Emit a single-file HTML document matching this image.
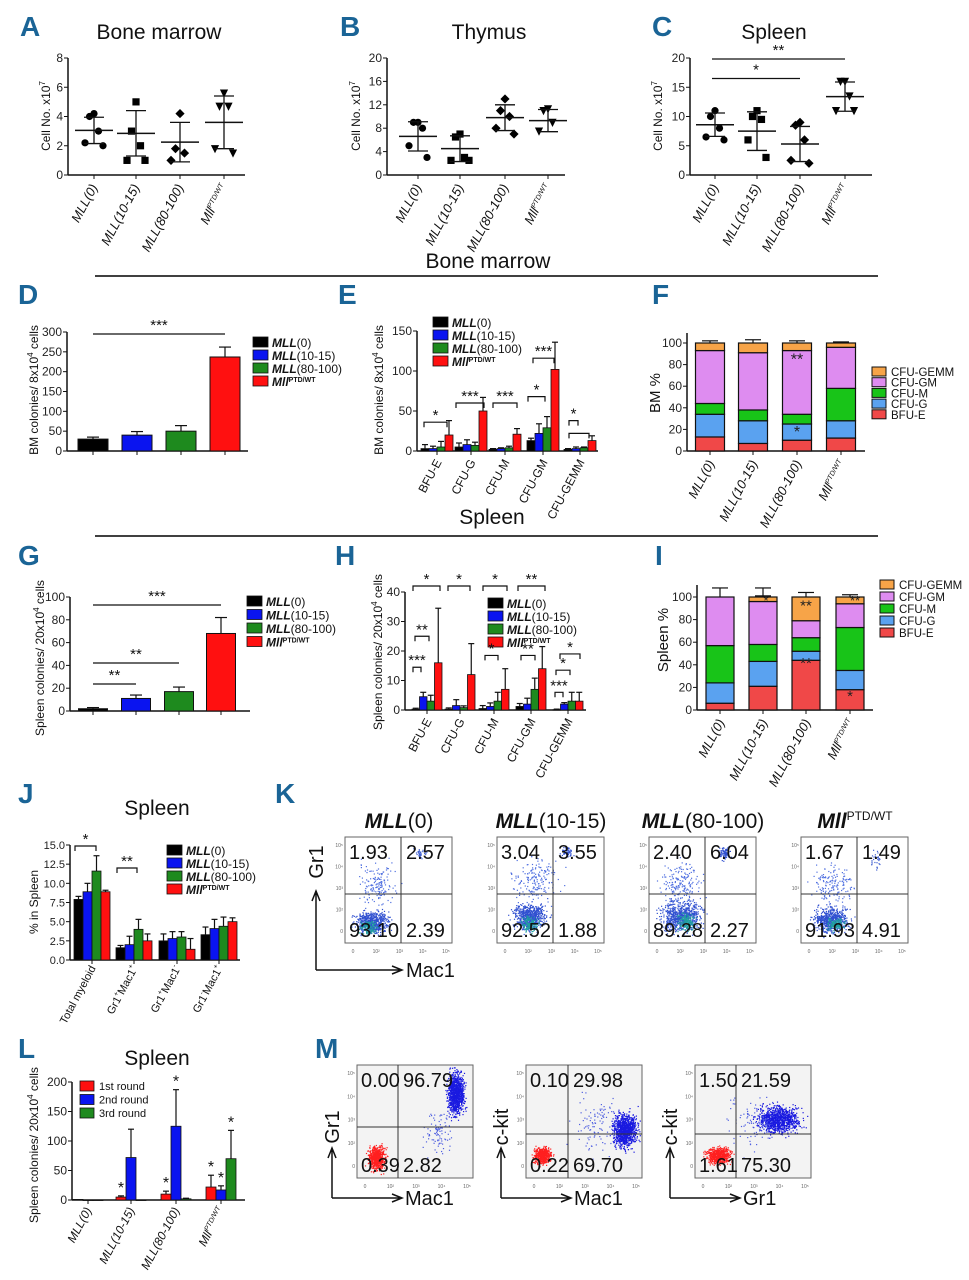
<!DOCTYPE html>
<html><head><meta charset="utf-8">
<style>
html,body{margin:0;padding:0;background:#fff;}
svg{display:block;font-family:"Liberation Sans Narrow","Liberation Sans",sans-serif;}
.pl{font-family:"Liberation Sans Narrow","Liberation Sans",sans-serif;font-weight:bold;font-size:28px;fill:#1a6496;}
.ttl{font-size:21px;fill:#111;}
</style></head>
<body>
<svg id="fig" width="969" height="1280" viewBox="0 0 969 1280" xmlns="http://www.w3.org/2000/svg">
<rect x="0" y="0" width="969" height="1280" fill="#fff"/>
<text class="pl" x="20" y="36">A</text>
<text class="pl" x="340" y="36">B</text>
<text class="pl" x="652" y="36">C</text>
<text class="ttl" x="159" y="39" text-anchor="middle">Bone marrow</text>
<text class="ttl" x="489" y="39" text-anchor="middle">Thymus</text>
<text class="ttl" x="774" y="39" text-anchor="middle">Spleen</text>
<text class="ttl" x="488" y="268" text-anchor="middle">Bone marrow</text>
<line x1="95" y1="276" x2="878" y2="276" stroke="#000" stroke-width="1.5"/>
<text class="pl" x="18" y="304">D</text>
<text class="pl" x="338" y="304">E</text>
<text class="pl" x="652" y="304">F</text>
<text class="ttl" x="492" y="524" text-anchor="middle">Spleen</text>
<line x1="95" y1="536" x2="878" y2="536" stroke="#000" stroke-width="1.5"/>
<text class="pl" x="18" y="565">G</text>
<text class="pl" x="335" y="565">H</text>
<text class="pl" x="655" y="565">I</text>
<text class="pl" x="18" y="803">J</text>
<text class="pl" x="275" y="803">K</text>
<text class="ttl" x="157" y="815" text-anchor="middle">Spleen</text>
<text class="pl" x="18" y="1058">L</text>
<text class="pl" x="315" y="1058">M</text>
<text class="ttl" x="157" y="1065" text-anchor="middle">Spleen</text>
</svg>
<script>
// ---------- data ----------
const groups = ['MLL(0)','MLL(10-15)','MLL(80-100)','MllPTD/WT'];
const colonyTypes = ['BFU-E','CFU-G','CFU-M','CFU-GM','CFU-GEMM'];
const seriesColors = ['#000000','#0a14f0','#1e8a1e','#ff1010'];
const stackColors = ['#f04848','#5aa2f0','#18c418','#de8cf0','#f7a448'];
// A
const aPts = [[4.2,4.0,3.0,2.2,2.0],[5.0,3.0,2.0,1.0,1.0],[4.2,1.8,1.5,1.0],[5.6,4.7,4.7,1.8,1.5]];
const aMean = [3.05,2.85,2.25,3.6];
const aSd = [0.9,1.55,1.35,1.8];
// B
const bPts = [[9,9,8,5,3],[7,6.5,3,2.5,2.5],[13,11,10,8,7],[11.3,11,9,7.5]];
const bMean = [6.6,4.5,9.8,9.3];
const bSd = [2.5,2.2,2.2,1.9];
// C
const cPts = [[11,10,8,6.5,6],[11,10,9.5,6,3],[9,8.5,6,2.5,2],[16,16,13.5,11,11]];
const cMean = [8.6,7.5,5.3,13.4];
const cSd = [2.0,3.3,3.0,2.5];
// D
const dVals = [30,40,50,237];
const dErr = [5,9,14,25];
// E (rows = colony type, cols = group)
const eVals = [[3,3,5,20],[5,8,7,50],[2,3,4,21],[13,22,29,102],[2,3,4,13]];
const eErr = [[5,3,7,18],[5,6,4,17],[1,1,2,7],[3,12,14,34],[1,2,1,6]];
// F stacked % (BFU-E, CFU-G, CFU-M, CFU-GM, CFU-GEMM)
const fVals = [[13,21,10,49,7],[7,21,10,53,9],[10,15,9,59,7],[12,16,30,38,4]];
const fErr = [[3,3,2,3,2],[2,3,2,2,3],[2,1,1,2,2],[1,4,10,1,1]];
// G
const gVals = [2,11,17,68];
const gErr = [1,3,4,14];
// H
const hVals = [[0.3,4.5,3,16],[0.3,1.5,0.8,12],[0.5,1.2,3,7],[1.2,2,7,14],[0.1,2,3,3]];
const hErr = [[0.3,1.5,2,18.5],[0.4,2,0.6,10.5],[1,1.2,3,7],[1,2,3.8,7.5],[0.2,0.5,3,3]];
// I stacked %
const iVals = [[6,18,33,43,0],[21,22,15,38,4],[44,8,12,15,21],[18,17,38,21,6]];
const iErr = [[6,7,11,8,0],[10,4,5,5,8],[4,4,5,7,4],[6,3,6,5,2]];
// J
const jCats = ['Total myeloid','Gr1+Mac1+','Gr1+Mac1-','Gr1-Mac1+'];
const jVals = [[7.9,8.9,11.6,8.9],[1.6,2.0,4.0,2.5],[2.5,2.8,3.0,1.4],[3.3,4.1,4.4,5.0]];
const jErr = [[0.4,1.1,2.0,0.2],[0.3,1.1,1.3,0.9],[0.9,0.9,0.7,1.4],[1.0,1.2,1.2,0.5]];
// L
const lSeries = ['1st round','2nd round','3rd round'];
const lVals = [[1,0,0],[5,72,0],[10,125,2],[22,17,70]];
const lErr = [[0,0,0],[2,48,0],[5,62,1],[20,7,48]];
const lSig = [[1,0],[2,0],[2,1],[3,0],[3,1],[3,2]];
// K quadrant percentages [TL, TR, BL, BR]
const kQuads = [['1.93','2.57','93.10','2.39'],['3.04','3.55','92.52','1.88'],['2.40','6.04','89.28','2.27'],['1.67','1.49','91.93','4.91']];
// M quadrant percentages
const mQuads = [['0.00','96.79','0.39','2.82'],['0.10','29.98','0.22','69.70'],['1.50','21.59','1.61','75.30']];
const mAxes = [['Gr1','Mac1'],['c-kit','Mac1'],['c-kit','Gr1']];

// ---------- helpers ----------
const NS='http://www.w3.org/2000/svg';
const svg=document.getElementById('fig');
function mk(tag, attrs, name, parent){
  const e=document.createElementNS(NS,tag);
  for(const k in attrs) e.setAttribute(k,attrs[k]);
  
  
  (parent||svg).appendChild(e);
  return e;
}
function txt(x,y,s,attrs,name,parent){
  const a=Object.assign({x:x,y:y},attrs||{});
  const t=mk('text',a,name,parent);
  t.textContent=s;
  return t;
}
function yAxis(o){
  const g=mk('g',{},o.name);
  const s=v=>o.y0-(v-o.min)/(o.max-o.min)*(o.y0-o.y1);
  mk('line',{x1:o.x,y1:o.y0,x2:o.x,y2:(o.top||o.y1),stroke:'#111','stroke-width':1.5},'y-axis-line',g);
  mk('line',{x1:o.x,y1:o.y0,x2:o.xEnd,y2:o.y0,stroke:'#111','stroke-width':1.5},'x-axis-line',g);
  o.ticks.forEach(v=>{
    mk('line',{x1:o.x-4,y1:s(v),x2:o.x,y2:s(v),stroke:'#111','stroke-width':1},'y-tick',g);
    txt(o.x-5,s(v)+4,o.fmt?o.fmt(v):String(v),{'text-anchor':'end','font-size':o.fs||12,fill:'#222'},'y-tick-label',g);
  });
  if(o.title){
    const t=txt(0,0,'',{'text-anchor':'middle','font-size':o.tfs||12,fill:'#111','font-family':'Liberation Sans, sans-serif',transform:`translate(${o.tx},${o.ty}) rotate(-90)`},'y-axis-title',g);
    t.innerHTML=o.title;
  }
  return s;
}
function catLabel(x,y,label,fs,name,italic){
  const t=txt(0,0,'',{'text-anchor':'end','font-size':fs||12,fill:'#111','font-style':italic===false?'normal':'italic','font-family':'Liberation Sans, sans-serif',transform:`translate(${x},${y}) rotate(-62)`},name);
  if(label.indexOf('Mll')===0){
    t.innerHTML='Mll<tspan font-size="7" dy="-5">PTD/WT</tspan>';
  } else if(/^Gr1/.test(label)){
    const m=label.match(/^Gr1(.)Mac1(.)$/);
    t.innerHTML='Gr1<tspan font-size="7" dy="-5">'+m[1]+'</tspan><tspan dy="5">Mac1</tspan><tspan font-size="7" dy="-5">'+m[2]+'</tspan>';
  } else t.textContent=label;
  return t;
}
function legendLabel(x,y,label,fs,name){
  const t=txt(x,y,'',{'font-size':fs||12,fill:'#111','font-family':'Liberation Sans, sans-serif'},name);
  if(label.indexOf('Mll')===0) t.innerHTML='<tspan font-weight="bold" font-style="italic">Mll</tspan><tspan font-size="7" dy="-4" font-weight="bold">PTD/WT</tspan>';
  else { const m=label.match(/^MLL(.*)$/); t.innerHTML='<tspan font-weight="bold" font-style="italic">MLL</tspan>'+m[1]; }
}
function errBar(x,yTop,yErr,hw,name){
  mk('line',{x1:x,y1:yTop,x2:x,y2:yErr,stroke:'#111','stroke-width':1.2},name);
  mk('line',{x1:x-hw,y1:yErr,x2:x+hw,y2:yErr,stroke:'#111','stroke-width':1.2},name+'-cap');
}
function bracket(x1,x2,y,label,name){
  mk('path',{d:`M${x1},${y+5}V${y}H${x2}V${y+5}`,fill:'none',stroke:'#111','stroke-width':1.2},name);
  txt((x1+x2)/2,y-2,label,{'text-anchor':'middle','font-size':15,fill:'#111','font-family':'Liberation Sans, sans-serif'},name+'-stars');
}
function sigLine(x1,x2,y,label,name){
  mk('line',{x1:x1,y1:y,x2:x2,y2:y,stroke:'#111','stroke-width':1.2},name);
  txt((x1+x2)/2,y-4,label,{'text-anchor':'middle','font-size':15,fill:'#111','font-family':'Liberation Sans, sans-serif'},name+'-stars');
}
function marker(kind,x,y,name){
  const r=3.6;
  if(kind===0) mk('circle',{cx:x,cy:y,r:r,fill:'#000'},name);
  else if(kind===1) mk('rect',{x:x-r,y:y-r,width:2*r,height:2*r,fill:'#000'},name);
  else if(kind===2) mk('polygon',{points:`${x},${y-r-1} ${x+r+1},${y} ${x},${y+r+1} ${x-r-1},${y}`,fill:'#000'},name);
  else mk('polygon',{points:`${x-r-0.5},${y-r} ${x+r+0.5},${y-r} ${x},${y+r+1}`,fill:'#000'},name);
}
function scatterPanel(o,pts,mean,sd,letter){
  const s=yAxis(o);
  o.cx.forEach((cx,gi)=>{
    pts[gi].forEach((v,i)=>{
      const off=(i%2===0?1:-1)*(Math.ceil(i/2))*4.5;
      marker(gi,cx+off,s(v),'point-'+letter+'-'+gi);
    });
    mk('line',{x1:cx-19,y1:s(mean[gi]),x2:cx+19,y2:s(mean[gi]),stroke:'#111','stroke-width':1.5},'mean-line');
    mk('line',{x1:cx,y1:s(mean[gi]-sd[gi]),x2:cx,y2:s(mean[gi]+sd[gi]),stroke:'#111','stroke-width':1.3},'sd-line');
    mk('line',{x1:cx-10,y1:s(mean[gi]-sd[gi]),x2:cx+10,y2:s(mean[gi]-sd[gi]),stroke:'#111','stroke-width':1.3},'sd-cap-low');
    mk('line',{x1:cx-10,y1:s(mean[gi]+sd[gi]),x2:cx+10,y2:s(mean[gi]+sd[gi]),stroke:'#111','stroke-width':1.3},'sd-cap-high');
    mk('line',{x1:cx,y1:o.y0,x2:cx,y2:o.y0+4,stroke:'#111'},'x-tick');
    catLabel(cx+4,o.y0+12,groups[gi],13,'x-label-'+letter);
  });
  return s;
}
function simpleBars(o,vals,err,letter){
  const s=yAxis(o);
  o.cx.forEach((cx,i)=>{
    errBar(cx,s(vals[i]),s(vals[i]+err[i]),6,'error-bar-'+letter);
    mk('rect',{x:cx-o.bw/2,y:s(vals[i]),width:o.bw,height:o.y0-s(vals[i]),fill:seriesColors[i],stroke:'#111','stroke-width':1},'bar-'+letter+'-'+i);
    mk('line',{x1:cx,y1:o.y0,x2:cx,y2:o.y0+4,stroke:'#111'},'x-tick');
  });
  return s;
}
function groupedBars(o,vals,err,colors,letter){
  const s=yAxis(o);
  o.cx.forEach((cx,gi)=>{
    vals[gi].forEach((v,si)=>{
      const x=cx+(si-(vals[gi].length-1)/2)*o.bw;
      if(err[gi][si]>0) errBar(x,s(v),s(v+err[gi][si]),3,'error-bar-'+letter);
      mk('rect',{x:x-o.bw/2,y:s(v),width:o.bw,height:Math.max(0.5,o.y0-s(v)),fill:colors[si],stroke:'#111','stroke-width':0.8},'bar-'+letter+'-'+gi+'-'+si);
    });
    mk('line',{x1:cx,y1:o.y0,x2:cx,y2:o.y0+4,stroke:'#111'},'x-tick');
  });
  return s;
}
function stacked(o,vals,err,letter){
  const s=yAxis(o);
  o.cx.forEach((cx,gi)=>{
    let cum=0;
    vals[gi].forEach((v,si)=>{
      if(v>0) mk('rect',{x:cx-o.bw/2,y:s(cum+v),width:o.bw,height:s(cum)-s(cum+v),fill:stackColors[si],stroke:'#111','stroke-width':1.2},'stack-'+letter+'-'+gi+'-'+colonyTypes[si]);
      cum+=v;
      if(err[gi][si]>0) errBar(cx,s(cum),s(cum+err[gi][si]),8,'stack-error-'+letter);
    });
    mk('line',{x1:cx,y1:o.y0,x2:cx,y2:o.y0+4,stroke:'#111'},'x-tick');
    catLabel(cx+5,o.y0+12,groups[gi],13,'x-label-'+letter);
  });
  return s;
}
function stackLegend(x,y,step,letter){
  for(let k=4;k>=0;k--){
    const yy=y+(4-k)*step;
    mk('rect',{x:x,y:yy,width:14,height:9,fill:stackColors[k],stroke:'#111','stroke-width':1},'legend-swatch-'+letter);
    txt(x+19,yy+9,colonyTypes[k],{'font-size':11.5,fill:'#111','font-family':'Liberation Sans, sans-serif'},'legend-entry-'+letter);
  }
}
function groupLegend(x,y,step,letter){
  groups.forEach((g,i)=>{
    mk('rect',{x:x,y:y+i*step,width:15,height:10,fill:seriesColors[i],stroke:'#111','stroke-width':0.8},'legend-swatch-'+letter);
    legendLabel(x+19,y+i*step+10,g,12,'legend-entry-'+letter);
  });
}
const colTitle='colonies/ 20x10<tspan font-size="8" dy="-5">4</tspan><tspan dy="5"> cells</tspan>';
// ---------- A B C ----------
const sA=scatterPanel({name:'chart-a',x:68,y0:175,y1:58,min:0,max:8,ticks:[0,2,4,6,8],xEnd:245,cx:[94,136,180,224],title:'Cell No. x10<tspan font-size="8" dy="-5">7</tspan>',tx:50,ty:116},aPts,aMean,aSd,'a');
const sB=scatterPanel({name:'chart-b',x:387,y0:175,y1:58,min:0,max:20,ticks:[0,4,8,12,16,20],xEnd:565,cx:[418,460,505,548],title:'Cell No. x10<tspan font-size="8" dy="-5">7</tspan>',tx:360,ty:116},bPts,bMean,bSd,'b');
const sC=scatterPanel({name:'chart-c',x:690,y0:175,y1:58,min:0,max:20,ticks:[0,5,10,15,20],xEnd:872,cx:[715,757,800,845],title:'Cell No. x10<tspan font-size="8" dy="-5">7</tspan>',tx:662,ty:116},cPts,cMean,cSd,'c');
sigLine(712,845,sC(20)+1,'**','sig-c-1');
sigLine(712,800,sC(16.5),'*','sig-c-2');
// ---------- D ----------
const sD=simpleBars({name:'chart-d',x:67,y0:451,y1:332,min:0,max:300,ticks:[0,50,100,150,200,250,300],xEnd:248,cx:[93,137,181,225],bw:30,title:'BM colonies/ 8x10<tspan font-size="8" dy="-5">4</tspan><tspan dy="5"> cells</tspan>',tx:38,ty:390},dVals,dErr,'d');
sigLine(93,225,334,'***','sig-d');
groupLegend(253,337,13,'d');
// ---------- E ----------
const sE=groupedBars({name:'chart-e',x:417,y0:451,y1:331,min:0,max:150,ticks:[0,50,100,150],xEnd:598,cx:[437,471,505,543,580],bw:8,title:'BM colonies/ 8x10<tspan font-size="8" dy="-5">4</tspan><tspan dy="5"> cells</tspan>',tx:383,ty:390},eVals,eErr,seriesColors,'e');
colonyTypes.forEach((c,i)=>catLabel([437,471,505,543,580][i]+5,462,c,12,'x-label-e',false));
groupLegend(433,317,13,'e');
bracket(424,447,sE(36),'*','sig-e-bfu');
bracket(456,484,sE(60),'***','sig-e-cfug');
bracket(493,517,sE(60),'***','sig-e-cfum');
bracket(528,545,sE(68),'*','sig-e-cfugm-1');
bracket(533,554,sE(116),'***','sig-e-cfugm-2');
bracket(569,578,sE(38),'*','sig-e-gemm-1');
bracket(569,589,sE(22),'','sig-e-gemm-2');
// ---------- F ----------
const sF=stacked({name:'chart-f',x:687,y0:451,y1:343,min:0,max:100,ticks:[0,20,40,60,80,100],xEnd:865,cx:[710,753,797,841],bw:29,top:333,title:'BM %',tx:660,ty:393,tfs:15},fVals,fErr,'f');
txt(797,sF(80),'**',{'text-anchor':'middle','font-size':16,fill:'#222'},'sig-f-1');
txt(797,sF(13),'*',{'text-anchor':'middle','font-size':16,fill:'#222'},'sig-f-2');
stackLegend(872,367,10.7,'f');
// ---------- G ----------
const sG=simpleBars({name:'chart-g',x:70,y0:711,y1:597,min:0,max:100,ticks:[0,20,40,60,80,100],xEnd:250,cx:[93,136,179,221],bw:29,title:'Spleen '+colTitle,tx:44,ty:658,tfs:12},gVals,gErr,'g');
sigLine(93,221,605,'***','sig-g-1');
sigLine(93,179,663,'**','sig-g-2');
sigLine(93,136,684,'**','sig-g-3');
groupLegend(247,596,13.5,'g');
// ---------- H ----------
const hx=[427,460,494,531,568];
const sH=groupedBars({name:'chart-h',x:405,y0:710,y1:592,min:0,max:40,ticks:[0,10,20,30,40],xEnd:586,cx:hx,bw:7.5,title:'Spleen '+colTitle,tx:382,ty:652,tfs:12},hVals,hErr,seriesColors,'h');
colonyTypes.forEach((c,i)=>catLabel(hx[i]+5,721,c,12,'x-label-h',false));
groupLegend(488,598,13,'h');
bracket(413,440,586,'*','sig-h-1');
bracket(448,470,586,'*','sig-h-2');
bracket(483,507,586,'*','sig-h-3');
bracket(518,545,586,'**','sig-h-4');
bracket(415,429,sH(25),'**','sig-h-5');
bracket(413,421,sH(14.5),'***','sig-h-6');
bracket(485,498,sH(18.5),'*','sig-h-7');
bracket(521,535,sH(18.5),'**','sig-h-8');
bracket(556,570,sH(13.5),'*','sig-h-9');
bracket(560,580,sH(19),'*','sig-h-10');
bracket(555,563,sH(6),'***','sig-h-11');
// ---------- I ----------
const sI=stacked({name:'chart-i',x:697,y0:710,y1:597,min:0,max:100,ticks:[0,20,40,60,80,100],xEnd:873,cx:[720,763,806,850],bw:28,top:585,title:'Spleen %',tx:668,ty:640,tfs:15},iVals,iErr,'i');
txt(806,sI(88),'**',{'text-anchor':'middle','font-size':15,fill:'#222'},'sig-i-1');
txt(806,sI(37),'**',{'text-anchor':'middle','font-size':15,fill:'#222'},'sig-i-2');
txt(850,sI(8),'*',{'text-anchor':'middle','font-size':15,fill:'#222'},'sig-i-3');
txt(766,sI(93),'*',{'text-anchor':'middle','font-size':13,fill:'#222'},'sig-i-4');
txt(855,sI(93),'**',{'text-anchor':'middle','font-size':13,fill:'#222'},'sig-i-5');
stackLegend(880,580,12,'i');
// ---------- J ----------
const jx=[92,134,177,219];
const sJ=groupedBars({name:'chart-j',x:70,y0:960,y1:845,min:0,max:15,ticks:[0,2.5,5,7.5,10,12.5,15],fmt:v=>v.toFixed(1),fs:11,xEnd:240,cx:jx,bw:9,title:'% in Spleen',tx:38,ty:902,tfs:12},jVals,jErr,seriesColors,'j');
jCats.forEach((c,i)=>catLabel(jx[i]+4,968,c,11,'x-label-j',false));
bracket(75,96,846,'*','sig-j-1');
bracket(117,137,sJ(12),'**','sig-j-2');
groupLegend(167,845,13,'j');
// ---------- L ----------
const lx=[88,131,176,221];
const lColors=['#ff1010','#0a14f0','#1e8a1e'];
const sL=groupedBars({name:'chart-l',x:72,y0:1200,y1:1082,min:0,max:200,ticks:[0,50,100,150,200],xEnd:245,cx:lx,bw:10,title:'Spleen '+colTitle,tx:38,ty:1145,tfs:12},lVals,lErr,lColors,'l');
groups.forEach((g,i)=>catLabel(lx[i]+4,1210,g,12,'x-label-l'));
lSeries.forEach((s,i)=>{
  mk('rect',{x:80,y:1081+i*13.5,width:14,height:10,fill:lColors[i],stroke:'#111','stroke-width':0.8},'legend-swatch-l');
  txt(99,1090+i*13.5,s,{'font-size':11,fill:'#111','font-family':'Liberation Sans, sans-serif'},'legend-entry-l');
});
lSig.forEach(p=>{
  const gi=p[0],si=p[1];
  const x=lx[gi]+(si-1)*10;
  txt(x,sL(lVals[gi][si]+lErr[gi][si])-3,'*',{'text-anchor':'middle','font-size':16,fill:'#111'},'sig-l');
});
// ---------- flow plots ----------
let seed=12345;
function rnd(){seed=(seed*1103515245+12345)%2147483648;return seed/2147483648;}
function gauss(){return (rnd()+rnd()+rnd()+rnd()-2)/1.2;}
function flowPlot(x,y,w,h,vx,hy,quads,clusters,bg,name){
  const g=mk('g',{},name);
  mk('rect',{x:x,y:y,width:w,height:h,fill:bg,stroke:'#666','stroke-width':1},'plot-frame',g);
  const dots=mk('g',{},'events',g);
  clusters.forEach(c=>{
    for(let i=0;i<c[4];i++){
      const px=x+w*Math.min(0.98,Math.max(0.01,c[0]+c[2]*gauss()));
      const py=y+h*Math.min(0.98,Math.max(0.02,c[1]+c[3]*gauss()));
      mk('rect',{x:px.toFixed(1),y:py.toFixed(1),width:1.2,height:1.2,fill:c[5]},'event',dots);
    }
  });
  mk('line',{x1:vx,y1:y,x2:vx,y2:y+h,stroke:'#333','stroke-width':1},'quadrant-vline',g);
  mk('line',{x1:x,y1:hy,x2:x+w,y2:hy,stroke:'#333','stroke-width':1},'quadrant-hline',g);
  const ts={'font-size':20,fill:'#111','font-family':'Liberation Sans, sans-serif'};
  txt(x+4,y+22,quads[0],ts,'quadrant-tl',g);
  txt(vx+5,y+22,quads[1],ts,'quadrant-tr',g);
  txt(x+4,y+h-6,quads[2],ts,'quadrant-bl',g);
  txt(vx+5,y+h-6,quads[3],ts,'quadrant-br',g);
  ['0','10²','10³','10⁴','10⁵'].forEach((t,i)=>{
    txt(x+8+i*(w-14)/4,y+h+10,t,{'font-size':5,fill:'#666','text-anchor':'middle'},'x-tick-label',g);
  });
  ['0','10²','10³','10⁴','10⁵'].forEach((t,i)=>{
    txt(x-2,y+h-10-i*(h-20)/4,t,{'font-size':5,fill:'#666','text-anchor':'end'},'y-tick-label',g);
  });
}
const kTitles=[['MLL','(0)'],['MLL','(10-15)'],['MLL','(80-100)'],['Mll','PTD/WT']];
const kClusterSets=[
 [[0.25,0.8,0.15,0.1,600,'#3050d0'],[0.3,0.45,0.18,0.2,160,'#5070e0'],[0.7,0.15,0.06,0.06,35,'#4060d0'],[0.22,0.85,0.08,0.06,120,'#20a0a0']],
 [[0.3,0.75,0.15,0.12,650,'#3050d0'],[0.35,0.4,0.2,0.2,180,'#5070e0'],[0.65,0.14,0.05,0.05,60,'#3050d0'],[0.3,0.82,0.08,0.08,150,'#20a0a0']],
 [[0.3,0.75,0.18,0.14,700,'#3050d0'],[0.3,0.45,0.2,0.22,200,'#5070e0'],[0.7,0.15,0.05,0.06,90,'#3050d0'],[0.35,0.8,0.08,0.08,160,'#20a0a0']],
 [[0.28,0.78,0.16,0.12,620,'#3050d0'],[0.3,0.45,0.2,0.2,160,'#5070e0'],[0.7,0.2,0.05,0.1,30,'#4060d0'],[0.32,0.82,0.08,0.06,130,'#20a0a0']]
];
for(let i=0;i<4;i++){
  const x=345+i*152;
  const t=txt(x+54,828,'',{'text-anchor':'middle','font-size':21,'font-family':'Liberation Sans, sans-serif',fill:'#111'},'k-title-'+i);
  if(i<3) t.innerHTML='<tspan font-weight="bold" font-style="italic">'+kTitles[i][0]+'</tspan>'+kTitles[i][1];
  else t.innerHTML='<tspan font-weight="bold" font-style="italic">Mll</tspan><tspan font-size="12" dy="-8">PTD/WT</tspan>';
  flowPlot(x,837,107,106,x+56,894,kQuads[i],kClusterSets[i],'#fff','k-plot-'+i);
}
mk('path',{d:'M316,970V893M312,901L316,891L320,901',fill:'none',stroke:'#111','stroke-width':1.5},'k-y-arrow');
mk('path',{d:'M316,970H400M392,966L402,970L392,974',fill:'none',stroke:'#111','stroke-width':1.5},'k-x-arrow');
txt(0,0,'Gr1',{'text-anchor':'middle','font-size':20,fill:'#111','font-family':'Liberation Sans, sans-serif',transform:'translate(323,862) rotate(-90)'},'k-y-label');
txt(406,977,'Mac1',{'font-size':20,fill:'#111','font-family':'Liberation Sans, sans-serif'},'k-x-label');
const mBoxes=[[357,398,1127],[526,568,1134],[695,736,1134]];
const mClusterSets=[
 [[0.17,0.82,0.07,0.1,700,'#ff2020'],[0.85,0.25,0.07,0.18,1000,'#1a1ae0'],[0.7,0.6,0.12,0.2,90,'#5060e0']],
 [[0.14,0.8,0.07,0.07,600,'#ff2020'],[0.85,0.58,0.1,0.15,1000,'#1a1ae0'],[0.6,0.5,0.2,0.25,100,'#5060e0']],
 [[0.2,0.8,0.1,0.07,600,'#ff2020'],[0.72,0.48,0.18,0.12,1000,'#1a1ae0'],[0.5,0.5,0.25,0.25,90,'#5060e0']]
];
mBoxes.forEach((b,i)=>{
  flowPlot(b[0],1065,116,113,b[1],b[2],mQuads[i],mClusterSets[i],'#f3f3f3','m-plot-'+i);
  const ax=b[0]-25;
  mk('path',{d:`M${ax},1198V1150M${ax-4},1158L${ax},1148L${ax+4},1158`,fill:'none',stroke:'#111','stroke-width':1.5},'m-y-arrow');
  mk('path',{d:`M${ax},1198H${ax+68}M${ax+60},1194L${ax+70},1198L${ax+60},1202`,fill:'none',stroke:'#111','stroke-width':1.5},'m-x-arrow');
  txt(0,0,mAxes[i][0],{'text-anchor':'middle','font-size':20,fill:'#111','font-family':'Liberation Sans, sans-serif',transform:`translate(${ax+7},1127) rotate(-90)`},'m-y-label');
  txt(ax+73,1205,mAxes[i][1],{'font-size':20,fill:'#111','font-family':'Liberation Sans, sans-serif'},'m-x-label');
});
</script>
</body></html>
